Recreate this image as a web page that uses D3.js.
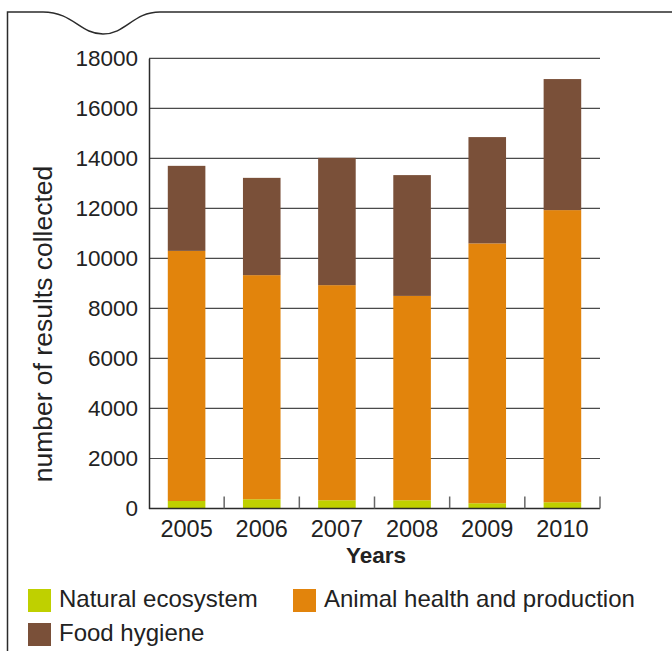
<!DOCTYPE html>
<html>
<head>
<meta charset="utf-8">
<script src="https://cdn.jsdelivr.net/npm/d3@7"></script>
<style>
  html, body { margin: 0; padding: 0; background: #fff; }
  svg { display: block; font-family: "Liberation Sans", Arial, Helvetica, sans-serif; }
</style>
</head>
<body>
<svg id="chart" width="672" height="651"></svg>
<script>
// Results collected per year, split by sample type
const years = ["2005", "2006", "2007", "2008", "2009", "2010"];
const naturalEcosystem = [300, 370, 330, 330, 210, 250];
const animalHealth = [10000, 8960, 8600, 8170, 10390, 11680];
const foodHygiene = [3400, 3890, 5090, 4830, 4250, 5240];
const seriesNames = ["Natural ecosystem", "Animal health and production", "Food hygiene"];
const seriesColors = ["#bfd000", "#e2840c", "#7a5039"];
const yTicks = [0, 2000, 4000, 6000, 8000, 10000, 12000, 14000, 16000, 18000];

const svg = d3.select("#chart");

// Frame with the notch along the top edge
svg.append("path")
  .attr("d", "M7.5,651 L7.5,12 L43,12 C73,12 80,34 103,34 C126,34 133,12 160,12 L672,12")
  .attr("fill", "none")
  .attr("stroke", "#2b2b2b")
  .attr("stroke-width", 1.5);

const margin = { left: 149, right: 600, top: 58.3, bottom: 508.5 };

const x = d3.scaleBand()
  .domain(years)
  .range([margin.left, margin.right])
  .paddingInner(0.5)
  .paddingOuter(0.25);

const y = d3.scaleLinear()
  .domain([0, 18000])
  .range([margin.bottom, margin.top]);

// Horizontal gridlines
svg.append("g")
  .selectAll("line")
  .data(yTicks.filter(d => d > 0))
  .join("line")
  .attr("x1", margin.left)
  .attr("x2", margin.right)
  .attr("y1", d => y(d))
  .attr("y2", d => y(d))
  .attr("stroke", "#4a4a4a")
  .attr("stroke-width", 1.2);

// Stacked bars
const table = years.map((yr, i) => ({
  year: yr,
  s0: naturalEcosystem[i],
  s1: animalHealth[i],
  s2: foodHygiene[i]
}));
const stack = d3.stack().keys(["s0", "s1", "s2"]);
const layers = stack(table);

svg.append("g")
  .selectAll("g")
  .data(layers)
  .join("g")
  .attr("fill", (d, i) => seriesColors[i])
  .selectAll("rect")
  .data(d => d)
  .join("rect")
  .attr("x", d => x(d.data.year))
  .attr("width", x.bandwidth())
  .attr("y", d => y(d[1]))
  .attr("height", d => y(d[0]) - y(d[1]));

// Y axis
const yAxis = d3.axisLeft(y)
  .tickValues(yTicks)
  .tickSize(0)
  .tickPadding(11)
  .tickFormat(d3.format("d"));

const gy = svg.append("g")
  .attr("transform", `translate(${margin.left},0)`)
  .call(yAxis);
gy.select(".domain").attr("stroke", "#2b2b2b").attr("stroke-width", 1.5);
gy.selectAll("text")
  .attr("fill", "#222")
  .style("font-size", "22.5px");

// X axis baseline and upward separators between years
svg.append("line")
  .attr("x1", margin.left)
  .attr("x2", margin.right)
  .attr("y1", y(0))
  .attr("y2", y(0))
  .attr("stroke", "#2b2b2b")
  .attr("stroke-width", 1.5);

const separators = years.map((yr, i) => i === years.length - 1
  ? margin.right
  : (x(yr) + x.bandwidth() + x(years[i + 1])) / 2);
svg.append("g")
  .selectAll("line")
  .data(separators)
  .join("line")
  .attr("x1", d => d)
  .attr("x2", d => d)
  .attr("y1", y(0))
  .attr("y2", y(0) - 12)
  .attr("stroke", "#666")
  .attr("stroke-width", 1.5);

svg.append("g")
  .selectAll("text")
  .data(years)
  .join("text")
  .attr("x", d => x(d) + x.bandwidth() / 2)
  .attr("y", 537)
  .attr("text-anchor", "middle")
  .attr("fill", "#222")
  .style("font-size", "23.5px")
  .text(d => d);

// Axis titles
svg.append("text")
  .attr("x", 376)
  .attr("y", 563)
  .attr("text-anchor", "middle")
  .attr("fill", "#222")
  .style("font-size", "22.5px")
  .style("font-weight", "bold")
  .text("Years");

svg.append("text")
  .attr("transform", "translate(52,324) rotate(-90)")
  .attr("text-anchor", "middle")
  .attr("fill", "#222")
  .style("font-size", "26.5px")
  .text("number of results collected");

// Legend
const legendItems = [
  { i: 0, x: 28, y: 589 },
  { i: 1, x: 293, y: 589 },
  { i: 2, x: 28, y: 623 }
];
const lg = svg.append("g")
  .selectAll("g")
  .data(legendItems)
  .join("g")
  .attr("transform", d => `translate(${d.x},${d.y})`);
lg.append("rect")
  .attr("width", 23)
  .attr("height", 23)
  .attr("fill", d => seriesColors[d.i]);
lg.append("text")
  .attr("x", 31)
  .attr("y", 18)
  .attr("fill", "#222")
  .style("font-size", "24px")
  .text(d => seriesNames[d.i]);
</script>
</body>
</html>
